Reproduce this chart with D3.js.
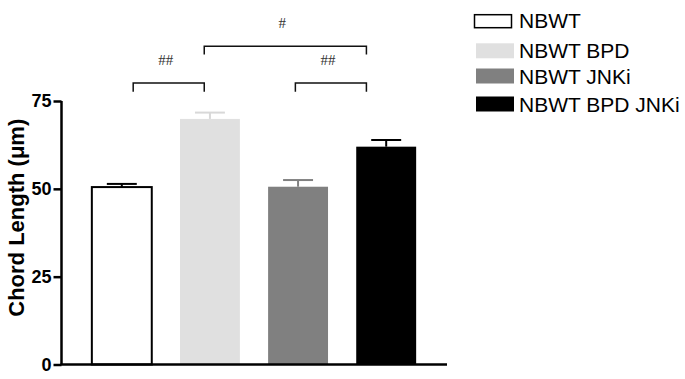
<!DOCTYPE html>
<html><head><meta charset="utf-8">
<script src="https://cdn.jsdelivr.net/npm/d3@7"></script>
<style>body{margin:0;background:#fff}svg{display:block}</style>
</head><body>
<script>
const categories = ["NBWT", "NBWT BPD", "NBWT JNKi", "NBWT BPD JNKi"];
const means = [50.5, 69.9, 50.6, 62.0];
const sems = [0.9, 1.8, 1.9, 1.9];
const fills = ["#ffffff", "#e0e0e0", "#808080", "#000000"];
const yTicks = [0, 25, 50, 75];
// significance brackets: from/to category, position inside band (fraction), bracket height, leg bottom
const brackets = [
  {from: 0, fromFrac: 0.69, to: 1, toFrac: 0.405, top: 80.1, leg: 77.6, label: "##"},
  {from: 2, fromFrac: 0.455, to: 3, toFrac: 0.17, top: 80.1, leg: 77.6, label: "##"},
  {from: 1, fromFrac: 0.405, to: 3, toFrac: 0.17, top: 90.6, leg: 88.2, label: "#"}
];

const W = 685, H = 379;
const svg = d3.select("body").append("svg").attr("width", W).attr("height", H);

const x = d3.scaleBand().domain(categories).range([61, 447]).paddingInner(0.32).paddingOuter(0.35);
const y = d3.scaleLinear().domain([0, 75]).range([364.5, 101]);
const bw = x.bandwidth();

// bars
svg.selectAll("rect.bar").data(categories).enter().append("rect")
  .attr("class", "bar")
  .attr("x", d => x(d))
  .attr("y", (d, i) => y(means[i]))
  .attr("width", bw)
  .attr("height", (d, i) => y(0) - y(means[i]))
  .attr("fill", (d, i) => fills[i])
  .attr("stroke", (d, i) => i === 0 ? "#000" : "none")
  .attr("stroke-width", 2);

// error bars (upward only)
const errColor = ["#000", "#d8d8d8", "#808080", "#000"];
categories.forEach((c, i) => {
  const cx = x(c) + bw / 2;
  const g = svg.append("g").attr("stroke", errColor[i]).attr("stroke-width", 2);
  g.append("line").attr("x1", cx).attr("x2", cx).attr("y1", y(means[i])).attr("y2", y(means[i] + sems[i]));
  g.append("line").attr("x1", cx - bw / 4).attr("x2", cx + bw / 4).attr("y1", y(means[i] + sems[i])).attr("y2", y(means[i] + sems[i]));
});

// y axis
const yAxis = d3.axisLeft(y).tickValues(yTicks).tickSize(8).tickPadding(2).tickFormat(d3.format("d"));
const ya = svg.append("g").attr("transform", "translate(61.5,0)").call(yAxis);
ya.select(".domain").attr("stroke", "#000").attr("stroke-width", 2.5).attr("d", `M0,${y(75)}V${y(0)}`);
ya.selectAll(".tick line").attr("stroke", "#000").attr("stroke-width", 2.5);
ya.selectAll(".tick text").attr("fill", "#000")
  .style("font-family", "Liberation Sans, Arial, sans-serif").style("font-weight", "bold").style("font-size", "18px");

// x axis
const xa = svg.append("g").attr("transform", `translate(0,${y(0)})`).call(d3.axisBottom(x).tickSize(0).tickFormat(""));
xa.select(".domain").attr("stroke", "#000").attr("stroke-width", 2.5).attr("d", "M60.5,0H447");

// y label
svg.append("text")
  .attr("transform", `translate(23.5,${(y(0) + y(75)) / 2 - 15}) rotate(-90)`)
  .attr("text-anchor", "middle")
  .style("font-family", "Liberation Sans, Arial, sans-serif").style("font-weight", "bold").style("font-size", "22px")
  .text("Chord Length (\u03bcm)");

// brackets
brackets.forEach(b => {
  const x1 = x(categories[b.from]) + b.fromFrac * bw;
  const x2 = x(categories[b.to]) + b.toFrac * bw;
  svg.append("path")
    .attr("d", `M${x1},${y(b.leg)}V${y(b.top)}H${x2}V${y(b.leg)}`)
    .attr("fill", "none").attr("stroke", "#111").attr("stroke-width", 1.5);
  svg.append("text")
    .attr("x", (x1 + x2) / 2 - 3).attr("y", y(b.top) - 18)
    .attr("text-anchor", "middle")
    .style("font-family", "Liberation Serif, serif").style("font-size", "15px").attr("fill", "#333")
    .text(b.label);
});

// legend
const legendBaselines = [27.7, 58.3, 83.5, 111.5];
categories.forEach((c, i) => {
  const by = legendBaselines[i];
  if (i === 0) {
    svg.append("rect").attr("x", 474.5).attr("y", by - 13).attr("width", 37).attr("height", 13)
      .attr("fill", fills[i]).attr("stroke", "#000").attr("stroke-width", 1.5);
  } else {
    svg.append("rect").attr("x", 476).attr("y", by - 15).attr("width", 38).attr("height", 15)
      .attr("fill", fills[i]);
  }
  svg.append("text").attr("x", 519).attr("y", by)
    .style("font-family", "Liberation Sans, Arial, sans-serif").style("font-size", "21px").attr("fill", "#000")
    .text(c);
});
</script>
</body></html>
